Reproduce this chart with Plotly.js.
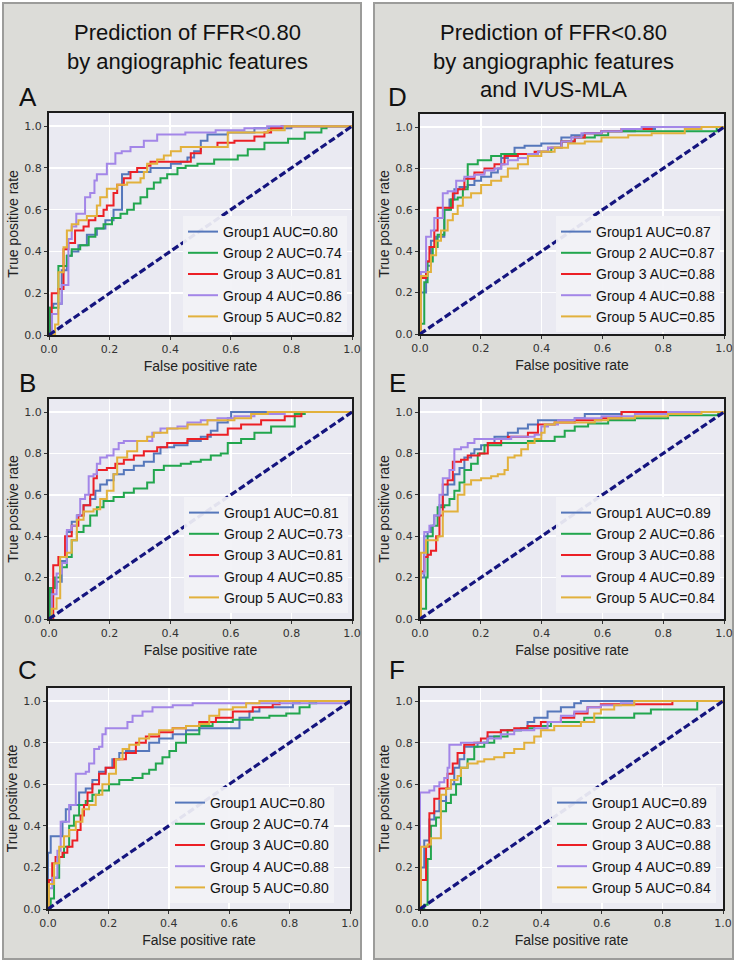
<!DOCTYPE html>
<html>
<head>
<meta charset="utf-8">
<script src="https://cdn.plot.ly/plotly-3.0.1.min.js"></script>
<style>
  html, body { margin: 0; padding: 0; background: #ffffff; }
  #wrap { position: relative; width: 736px; height: 962px; }
  .panel { position: absolute; top: 2px; height: 958px; box-sizing: border-box;
           background: #dcdcd8; border: 2px solid #9c9c9a; }
  #chart { position: absolute; left: 0; top: 0; width: 736px; height: 962px; }
</style>
</head>
<body>
<div id="wrap">
  <div class="panel" style="left:2px; width:360px;"></div>
  <div class="panel" style="left:373px; width:361px;"></div>
  <div id="chart"></div>
</div>
<script>
// legend labels
var groupLabels = ['Group1', 'Group 2', 'Group 3', 'Group 4', 'Group 5'];
var colors = ['#5577bb', '#22a64e', '#ec1f25', '#a386e8', '#e2b13c'];

// AUC per panel
var aucA = ['0.80', '0.74', '0.81', '0.86', '0.82'];
var aucB = ['0.81', '0.73', '0.81', '0.85', '0.83'];
var aucC = ['0.80', '0.74', '0.80', '0.88', '0.80'];
var aucD = ['0.87', '0.87', '0.88', '0.88', '0.85'];
var aucE = ['0.89', '0.86', '0.88', '0.89', '0.84'];
var aucF = ['0.89', '0.83', '0.88', '0.89', '0.84'];

// ---- A : angiographic features ----
var fprA1 = [0, 0.003, 0.014, 0.042, 0.059, 0.075, 0.097, 0.125, 0.158, 0.186, 0.213, 0.241, 0.263, 0.335, 0.402, 0.435, 0.457, 0.479, 0.501, 0.523, 0.590, 0.678, 0.800, 1.0];
var tprA1 = [0, 0.13, 0.15, 0.31, 0.38, 0.40, 0.43, 0.48, 0.51, 0.55, 0.60, 0.77, 0.78, 0.80, 0.82, 0.83, 0.85, 0.88, 0.93, 0.96, 0.97, 0.99, 1.0, 1.0];
var fprA2 = [0, 0.003, 0.031, 0.059, 0.075, 0.103, 0.131, 0.153, 0.180, 0.208, 0.236, 0.258, 0.280, 0.302, 0.324, 0.346, 0.368, 0.390, 0.424, 0.451, 0.490, 0.545, 0.623, 0.656, 0.711, 0.789, 0.844, 0.899, 0.916, 1.0];
var tprA2 = [0, 0.13, 0.33, 0.38, 0.41, 0.43, 0.47, 0.51, 0.53, 0.56, 0.58, 0.60, 0.63, 0.66, 0.70, 0.73, 0.75, 0.77, 0.80, 0.81, 0.82, 0.84, 0.86, 0.89, 0.92, 0.94, 0.97, 0.99, 1.0, 1.0];
var fprA3 = [0, 0.009, 0.031, 0.048, 0.064, 0.086, 0.114, 0.131, 0.153, 0.180, 0.191, 0.213, 0.225, 0.247, 0.269, 0.291, 0.324, 0.335, 0.457, 0.468, 0.501, 0.556, 0.612, 0.678, 0.711, 0.733, 0.767, 1.0];
var tprA3 = [0, 0.20, 0.22, 0.41, 0.44, 0.50, 0.52, 0.55, 0.57, 0.60, 0.62, 0.68, 0.72, 0.75, 0.78, 0.80, 0.81, 0.83, 0.83, 0.87, 0.90, 0.92, 0.93, 0.95, 0.97, 0.99, 1.0, 1.0];
var fprA4 = [0, 0.01, 0.03, 0.042, 0.064, 0.075, 0.09, 0.119, 0.136, 0.150, 0.158, 0.191, 0.219, 0.24, 0.269, 0.313, 0.357, 0.45, 0.55, 0.645, 0.72, 1.0];
var tprA4 = [0, 0.10, 0.15, 0.24, 0.46, 0.52, 0.58, 0.66, 0.68, 0.74, 0.77, 0.82, 0.87, 0.88, 0.90, 0.93, 0.96, 0.97, 0.98, 0.99, 1.0, 1.0];
var fprA5 = [0, 0.020, 0.031, 0.048, 0.059, 0.075, 0.097, 0.125, 0.158, 0.169, 0.191, 0.225, 0.258, 0.302, 0.313, 0.324, 0.357, 0.379, 0.402, 0.435, 0.501, 0.590, 0.722, 0.778, 1.0];
var tprA5 = [0, 0.05, 0.30, 0.42, 0.50, 0.53, 0.55, 0.57, 0.62, 0.66, 0.70, 0.72, 0.73, 0.75, 0.78, 0.82, 0.84, 0.86, 0.88, 0.90, 0.90, 0.97, 0.98, 1.0, 1.0];

// ---- B ----
var fprB1 = [0, 0.009, 0.025, 0.042, 0.059, 0.075, 0.092, 0.114, 0.136, 0.153, 0.169, 0.191, 0.213, 0.247, 0.280, 0.313, 0.346, 0.368, 0.413, 0.457, 0.501, 0.534, 0.556, 0.590, 0.601, 1.0];
var tprB1 = [0, 0.15, 0.18, 0.28, 0.42, 0.47, 0.50, 0.55, 0.58, 0.62, 0.65, 0.67, 0.70, 0.72, 0.74, 0.76, 0.80, 0.83, 0.84, 0.86, 0.88, 0.91, 0.95, 0.97, 1.0, 1.0];
var fprB2 = [0, 0.003, 0.020, 0.037, 0.059, 0.075, 0.092, 0.114, 0.136, 0.158, 0.180, 0.213, 0.247, 0.280, 0.324, 0.346, 0.379, 0.435, 0.468, 0.501, 0.534, 0.567, 0.590, 0.634, 0.678, 0.733, 0.811, 0.844, 1.0];
var tprB2 = [0, 0.15, 0.20, 0.25, 0.30, 0.38, 0.42, 0.45, 0.50, 0.54, 0.57, 0.59, 0.61, 0.63, 0.66, 0.72, 0.74, 0.75, 0.76, 0.77, 0.79, 0.80, 0.85, 0.87, 0.90, 0.93, 0.99, 1.0, 1.0];
var fprB3 = [0, 0.014, 0.031, 0.053, 0.075, 0.097, 0.114, 0.136, 0.147, 0.158, 0.191, 0.219, 0.247, 0.280, 0.313, 0.357, 0.390, 0.457, 0.523, 0.590, 0.634, 0.700, 0.778, 0.833, 1.0];
var tprB3 = [0, 0.26, 0.30, 0.40, 0.45, 0.50, 0.55, 0.60, 0.68, 0.72, 0.73, 0.75, 0.77, 0.79, 0.81, 0.83, 0.85, 0.87, 0.89, 0.92, 0.94, 0.96, 0.98, 1.0, 1.0];
var fprB4 = [0, 0.009, 0.025, 0.042, 0.059, 0.075, 0.092, 0.103, 0.119, 0.131, 0.147, 0.158, 0.169, 0.191, 0.213, 0.230, 0.247, 0.313, 0.341, 0.368, 0.424, 0.457, 0.501, 0.556, 0.612, 0.678, 0.778, 1.0];
var tprB4 = [0, 0.12, 0.22, 0.27, 0.43, 0.45, 0.50, 0.58, 0.60, 0.69, 0.70, 0.75, 0.78, 0.79, 0.82, 0.85, 0.86, 0.86, 0.90, 0.92, 0.93, 0.95, 0.96, 0.97, 0.98, 0.99, 1.0, 1.0];
var fprB5 = [0, 0.009, 0.025, 0.037, 0.059, 0.075, 0.092, 0.114, 0.147, 0.169, 0.191, 0.213, 0.225, 0.258, 0.291, 0.324, 0.346, 0.390, 0.457, 0.523, 0.612, 0.667, 0.722, 1.0];
var tprB5 = [0, 0.05, 0.10, 0.30, 0.32, 0.38, 0.48, 0.52, 0.53, 0.58, 0.62, 0.70, 0.78, 0.81, 0.86, 0.88, 0.90, 0.92, 0.94, 0.96, 0.97, 0.99, 1.0, 1.0];

// ---- C ----
var fprC1 = [0, 0, 0.009, 0.048, 0.059, 0.075, 0.103, 0.125, 0.147, 0.169, 0.191, 0.213, 0.236, 0.258, 0.335, 0.368, 0.413, 0.457, 0.501, 0.634, 0.667, 0.700, 0.811, 0.833, 1.0];
var tprC1 = [0, 0.27, 0.35, 0.42, 0.48, 0.50, 0.56, 0.58, 0.62, 0.66, 0.68, 0.72, 0.75, 0.76, 0.80, 0.82, 0.84, 0.86, 0.87, 0.92, 0.95, 0.97, 0.99, 1.0, 1.0];
var fprC2 = [0, 0.009, 0.020, 0.037, 0.053, 0.070, 0.086, 0.103, 0.125, 0.147, 0.169, 0.202, 0.236, 0.280, 0.313, 0.335, 0.357, 0.379, 0.402, 0.424, 0.457, 0.501, 0.545, 0.612, 0.678, 0.733, 0.789, 0.833, 0.866, 0.888, 1.0];
var tprC2 = [0, 0.05, 0.15, 0.25, 0.30, 0.40, 0.45, 0.50, 0.52, 0.55, 0.57, 0.60, 0.62, 0.63, 0.65, 0.67, 0.70, 0.73, 0.76, 0.80, 0.84, 0.88, 0.90, 0.91, 0.92, 0.93, 0.94, 0.97, 0.99, 1.0, 1.0];
var fprC3 = [0, 0.003, 0.014, 0.025, 0.048, 0.064, 0.081, 0.097, 0.108, 0.119, 0.131, 0.147, 0.169, 0.191, 0.219, 0.258, 0.291, 0.324, 0.368, 0.413, 0.457, 0.501, 0.556, 0.612, 0.678, 0.744, 0.767, 1.0];
var tprC3 = [0, 0.14, 0.22, 0.25, 0.27, 0.30, 0.33, 0.38, 0.45, 0.50, 0.56, 0.60, 0.65, 0.68, 0.72, 0.75, 0.80, 0.83, 0.85, 0.87, 0.88, 0.90, 0.92, 0.95, 0.97, 0.985, 1.0, 1.0];
var fprC4 = [0, 0.003, 0.014, 0.031, 0.042, 0.070, 0.092, 0.125, 0.136, 0.153, 0.169, 0.180, 0.191, 0.263, 0.280, 0.313, 0.346, 0.413, 0.479, 1.0];
var tprC4 = [0, 0.10, 0.15, 0.28, 0.42, 0.50, 0.65, 0.66, 0.70, 0.77, 0.78, 0.84, 0.87, 0.90, 0.93, 0.95, 0.97, 0.98, 0.99, 1.0];
var fprC5 = [0, 0.003, 0.020, 0.037, 0.053, 0.070, 0.092, 0.114, 0.136, 0.158, 0.180, 0.202, 0.225, 0.247, 0.269, 0.302, 0.335, 0.368, 0.413, 0.457, 0.501, 0.534, 0.567, 0.612, 0.656, 0.700, 1.0];
var tprC5 = [0, 0.12, 0.22, 0.30, 0.35, 0.38, 0.42, 0.48, 0.50, 0.55, 0.60, 0.65, 0.72, 0.77, 0.79, 0.82, 0.84, 0.86, 0.87, 0.88, 0.89, 0.93, 0.96, 0.97, 0.99, 1.0, 1.0];

// ---- D : angiographic features + IVUS-MLA ----
var fprD1 = [0, 0.003, 0.020, 0.036, 0.053, 0.080, 0.097, 0.113, 0.130, 0.157, 0.179, 0.201, 0.234, 0.256, 0.267, 0.289, 0.311, 0.344, 0.399, 0.465, 0.498, 0.542, 0.597, 0.707, 0.773, 1.0];
var tprD1 = [0, 0.20, 0.33, 0.45, 0.47, 0.60, 0.65, 0.70, 0.71, 0.72, 0.74, 0.76, 0.78, 0.80, 0.85, 0.86, 0.90, 0.91, 0.92, 0.95, 0.96, 0.97, 0.98, 0.99, 1.0, 1.0];
var fprD2 = [0, 0.003, 0.014, 0.025, 0.042, 0.058, 0.080, 0.102, 0.124, 0.141, 0.157, 0.190, 0.234, 0.267, 0.388, 0.432, 0.465, 0.509, 0.575, 0.619, 0.976, 1.0];
var tprD2 = [0, 0.05, 0.25, 0.35, 0.42, 0.48, 0.60, 0.65, 0.66, 0.70, 0.82, 0.84, 0.86, 0.87, 0.88, 0.90, 0.93, 0.95, 0.96, 0.98, 1.0, 1.0];
var fprD3 = [0, 0.003, 0.020, 0.031, 0.047, 0.058, 0.108, 0.124, 0.146, 0.179, 0.212, 0.245, 0.278, 0.322, 0.377, 0.421, 0.465, 0.509, 0.542, 0.597, 0.663, 0.762, 1.0];
var tprD3 = [0, 0.27, 0.35, 0.42, 0.50, 0.61, 0.68, 0.70, 0.75, 0.78, 0.80, 0.82, 0.86, 0.87, 0.88, 0.90, 0.93, 0.95, 0.97, 0.98, 0.99, 1.0, 1.0];
var fprD4 = [0, 0.003, 0.020, 0.036, 0.047, 0.075, 0.091, 0.119, 0.146, 0.179, 0.212, 0.245, 0.267, 0.289, 0.322, 0.355, 0.388, 0.421, 0.465, 0.498, 0.531, 0.597, 0.663, 0.729, 1.0];
var tprD4 = [0, 0.30, 0.47, 0.50, 0.56, 0.68, 0.69, 0.74, 0.76, 0.77, 0.79, 0.80, 0.82, 0.84, 0.85, 0.87, 0.88, 0.90, 0.93, 0.95, 0.97, 0.98, 0.99, 1.0, 1.0];
var fprD5 = [0, 0.003, 0.025, 0.036, 0.053, 0.069, 0.091, 0.108, 0.124, 0.141, 0.168, 0.201, 0.234, 0.267, 0.289, 0.322, 0.355, 0.399, 0.443, 0.487, 0.542, 0.597, 0.685, 0.762, 0.871, 0.926, 1.0];
var tprD5 = [0, 0.28, 0.30, 0.38, 0.45, 0.50, 0.55, 0.58, 0.62, 0.66, 0.68, 0.72, 0.74, 0.76, 0.80, 0.82, 0.86, 0.88, 0.90, 0.92, 0.93, 0.95, 0.96, 0.97, 0.99, 1.0, 1.0];

// ---- E ----
var fprE1 = [0, 0.003, 0.014, 0.025, 0.036, 0.047, 0.064, 0.075, 0.091, 0.113, 0.130, 0.146, 0.168, 0.179, 0.201, 0.223, 0.245, 0.289, 0.322, 0.355, 0.388, 0.509, 0.542, 0.663, 1.0];
var tprE1 = [0, 0.20, 0.40, 0.42, 0.45, 0.50, 0.55, 0.60, 0.65, 0.70, 0.73, 0.78, 0.80, 0.82, 0.84, 0.85, 0.88, 0.90, 0.92, 0.94, 0.96, 0.97, 0.99, 1.0, 1.0];
var fprE2 = [0, 0.003, 0.020, 0.025, 0.042, 0.058, 0.080, 0.097, 0.113, 0.130, 0.146, 0.168, 0.190, 0.212, 0.267, 0.355, 0.443, 0.476, 0.509, 0.553, 0.619, 0.707, 0.816, 0.981, 1.0];
var tprE2 = [0, 0.05, 0.20, 0.40, 0.45, 0.54, 0.55, 0.58, 0.62, 0.66, 0.72, 0.75, 0.80, 0.84, 0.85, 0.86, 0.88, 0.91, 0.93, 0.945, 0.96, 0.97, 0.985, 1.0, 1.0];
var fprE3 = [0, 0.003, 0.014, 0.025, 0.036, 0.053, 0.064, 0.075, 0.091, 0.108, 0.135, 0.157, 0.196, 0.223, 0.267, 0.289, 0.355, 0.388, 0.443, 0.509, 0.597, 0.663, 1.0];
var tprE3 = [0, 0.23, 0.30, 0.31, 0.33, 0.40, 0.50, 0.65, 0.67, 0.76, 0.77, 0.79, 0.80, 0.85, 0.87, 0.88, 0.90, 0.94, 0.95, 0.96, 0.97, 1.0, 1.0];
var fprE4 = [0, 0.003, 0.014, 0.031, 0.047, 0.064, 0.075, 0.097, 0.113, 0.135, 0.157, 0.179, 0.300, 0.377, 0.399, 0.421, 0.454, 0.509, 0.597, 0.707, 0.816, 1.0];
var tprE4 = [0, 0.22, 0.42, 0.45, 0.50, 0.60, 0.68, 0.72, 0.82, 0.83, 0.85, 0.87, 0.88, 0.89, 0.93, 0.94, 0.96, 0.97, 0.98, 0.99, 1.0, 1.0];
var fprE5 = [0, 0.003, 0.020, 0.058, 0.075, 0.124, 0.146, 0.168, 0.201, 0.234, 0.256, 0.278, 0.289, 0.311, 0.333, 0.355, 0.377, 0.399, 0.410, 0.443, 0.575, 0.619, 0.707, 0.816, 0.926, 1.0];
var tprE5 = [0, 0.32, 0.38, 0.40, 0.52, 0.60, 0.65, 0.67, 0.68, 0.69, 0.70, 0.72, 0.78, 0.79, 0.82, 0.85, 0.87, 0.90, 0.94, 0.95, 0.96, 0.97, 0.98, 0.99, 1.0, 1.0];

// ---- F ----
var fprF1 = [0, 0.003, 0.014, 0.031, 0.047, 0.064, 0.086, 0.102, 0.113, 0.130, 0.146, 0.190, 0.223, 0.267, 0.333, 0.355, 0.377, 0.421, 0.465, 0.509, 0.531, 1.0];
var tprF1 = [0, 0.20, 0.33, 0.43, 0.47, 0.52, 0.58, 0.60, 0.68, 0.72, 0.78, 0.80, 0.83, 0.86, 0.87, 0.90, 0.92, 0.95, 0.97, 0.99, 1.0, 1.0];
var fprF2 = [0, 0.014, 0.025, 0.036, 0.053, 0.069, 0.086, 0.102, 0.119, 0.135, 0.157, 0.179, 0.212, 0.245, 0.289, 0.333, 0.377, 0.432, 0.542, 0.707, 0.762, 0.915, 1.0];
var tprF2 = [0, 0.02, 0.24, 0.40, 0.44, 0.47, 0.51, 0.55, 0.60, 0.68, 0.72, 0.78, 0.80, 0.83, 0.86, 0.87, 0.88, 0.90, 0.92, 0.94, 0.96, 1.0, 1.0];
var fprF3 = [0, 0.003, 0.020, 0.031, 0.047, 0.064, 0.091, 0.108, 0.124, 0.146, 0.179, 0.201, 0.223, 0.267, 0.311, 0.355, 0.399, 0.465, 0.509, 0.553, 0.597, 0.833, 1.0];
var tprF3 = [0, 0.14, 0.30, 0.46, 0.53, 0.58, 0.65, 0.70, 0.75, 0.79, 0.80, 0.82, 0.85, 0.86, 0.87, 0.88, 0.90, 0.92, 0.94, 0.97, 0.985, 1.0, 1.0];
var fprF4 = [0, 0, 0.031, 0.047, 0.064, 0.080, 0.091, 0.097, 0.135, 0.223, 0.267, 0.311, 0.377, 0.421, 0.465, 0.509, 0.553, 0.597, 0.663, 0.707, 1.0];
var tprF4 = [0, 0.56, 0.57, 0.59, 0.61, 0.63, 0.68, 0.79, 0.80, 0.82, 0.84, 0.86, 0.87, 0.90, 0.93, 0.95, 0.97, 0.98, 0.99, 1.0, 1.0];
var fprF5 = [0, 0.003, 0.025, 0.036, 0.069, 0.086, 0.102, 0.124, 0.135, 0.157, 0.190, 0.212, 0.245, 0.278, 0.311, 0.344, 0.377, 0.399, 0.443, 0.531, 0.575, 0.597, 0.641, 0.707, 1.0];
var tprF5 = [0, 0.30, 0.31, 0.34, 0.55, 0.58, 0.62, 0.64, 0.68, 0.70, 0.71, 0.72, 0.73, 0.75, 0.77, 0.80, 0.83, 0.86, 0.88, 0.90, 0.94, 0.96, 0.98, 1.0, 1.0];

var chance = [0, 1];

var W = 736, H = 962;
// subplot frames in pixels: [left, right, top, bottom], legend anchor [right, bottom], letter [x, y]
var panels = [
  {letter: 'A', fpr: [fprA1, fprA2, fprA3, fprA4, fprA5], tpr: [tprA1, tprA2, tprA3, tprA4, tprA5], auc: aucA,
   box: [49, 352, 113, 335], leg: [347, 332], lab: [28, 97]},
  {letter: 'B', fpr: [fprB1, fprB2, fprB3, fprB4, fprB5], tpr: [tprB1, tprB2, tprB3, tprB4, tprB5], auc: aucB,
   box: [49, 352, 399, 619], leg: [348, 613], lab: [27, 383]},
  {letter: 'C', fpr: [fprC1, fprC2, fprC3, fprC4, fprC5], tpr: [tprC1, tprC2, tprC3, tprC4, tprC5], auc: aucC,
   box: [48, 350, 688, 909], leg: [334, 903], lab: [27, 670]},
  {letter: 'D', fpr: [fprD1, fprD2, fprD3, fprD4, fprD5], tpr: [tprD1, tprD2, tprD3, tprD4, tprD5], auc: aucD,
   box: [420, 724, 114, 334], leg: [720, 332], lab: [397, 97]},
  {letter: 'E', fpr: [fprE1, fprE2, fprE3, fprE4, fprE5], tpr: [tprE1, tprE2, tprE3, tprE4, tprE5], auc: aucE,
   box: [420, 724, 399, 619], leg: [720, 613], lab: [397, 383]},
  {letter: 'F', fpr: [fprF1, fprF2, fprF3, fprF4, fprF5], tpr: [tprF1, tprF2, tprF3, tprF4, tprF5], auc: aucF,
   box: [420, 723, 688, 909], leg: [716, 903], lab: [397, 670]}
];

var sans = 'Liberation Sans, Arial, sans-serif';
var data = [];
var layout = {
  width: W, height: H,
  margin: {l: 0, r: 0, t: 0, b: 0},
  paper_bgcolor: 'rgba(0,0,0,0)',
  plot_bgcolor: '#eaeaf2',
  showlegend: true,
  annotations: [
    {text: 'Prediction of FFR&lt;0.80<br>by angiographic features', x: 187 / W, y: 1 - 47 / H,
     xref: 'paper', yref: 'paper', xanchor: 'center', yanchor: 'middle', showarrow: false,
     font: {family: sans, size: 22, color: '#111'}},
    {text: 'Prediction of FFR&lt;0.80<br>by angiographic features<br>and IVUS-MLA', x: 553 / W, y: 1 - 61 / H,
     xref: 'paper', yref: 'paper', xanchor: 'center', yanchor: 'middle', showarrow: false,
     font: {family: sans, size: 22, color: '#111'}}
  ]
};

panels.forEach(function (p, i) {
  var n = i === 0 ? '' : String(i + 1);
  var legName = 'legend' + n;
  for (var g = 0; g < 5; g++) {
    data.push({
      x: p.fpr[g], y: p.tpr[g],
      xaxis: 'x' + n, yaxis: 'y' + n,
      type: 'scatter', mode: 'lines',
      line: {color: colors[g], width: 2, shape: 'hv'},
      name: groupLabels[g] + ' AUC=' + p.auc[g],
      legend: legName
    });
  }
  data.push({
    x: chance, y: chance, xaxis: 'x' + n, yaxis: 'y' + n,
    type: 'scatter', mode: 'lines', showlegend: false,
    line: {color: '#14147e', width: 3.2, dash: '7px,3px'}
  });

  var common = {
    showgrid: true, gridcolor: '#ffffff', gridwidth: 1.5, zeroline: false,
    showline: true, mirror: true, linecolor: '#1c1c1c', linewidth: 2,
    ticks: 'outside', ticklen: 3, tickcolor: '#333',
    tickformat: '.1f', tick0: 0, dtick: 0.2,
    tickfont: {family: 'DejaVu Sans, sans-serif', size: 11, color: '#333'}
  };
  layout['xaxis' + n] = Object.assign({}, common, {
    domain: [p.box[0] / W, p.box[1] / W], range: [0, 1], anchor: 'y' + n,
    title: {text: 'False positive rate', standoff: 6, font: {family: sans, size: 14, color: '#222'}}
  });
  layout['yaxis' + n] = Object.assign({}, common, {
    domain: [1 - p.box[3] / H, 1 - p.box[2] / H], range: [0, 1.063], anchor: 'x' + n,
    title: {text: 'True positive rate', standoff: 2, font: {family: sans, size: 14, color: '#222'}}
  });
  layout[legName] = {
    x: p.leg[0] / W, y: 1 - p.leg[1] / H, xanchor: 'right', yanchor: 'bottom',
    xref: 'paper', yref: 'paper',
    bgcolor: 'rgba(242,242,246,0.93)', borderwidth: 0,
    font: {family: sans, size: 14, color: '#111'}
  };
  layout.annotations.push({
    text: p.letter, x: p.lab[0] / W, y: 1 - p.lab[1] / H, xref: 'paper', yref: 'paper',
    xanchor: 'center', yanchor: 'middle', showarrow: false,
    font: {family: sans, size: 26, color: '#111'}
  });
});

Plotly.newPlot('chart', data, layout, {displayModeBar: false, staticPlot: true});
</script>
</body>
</html>
